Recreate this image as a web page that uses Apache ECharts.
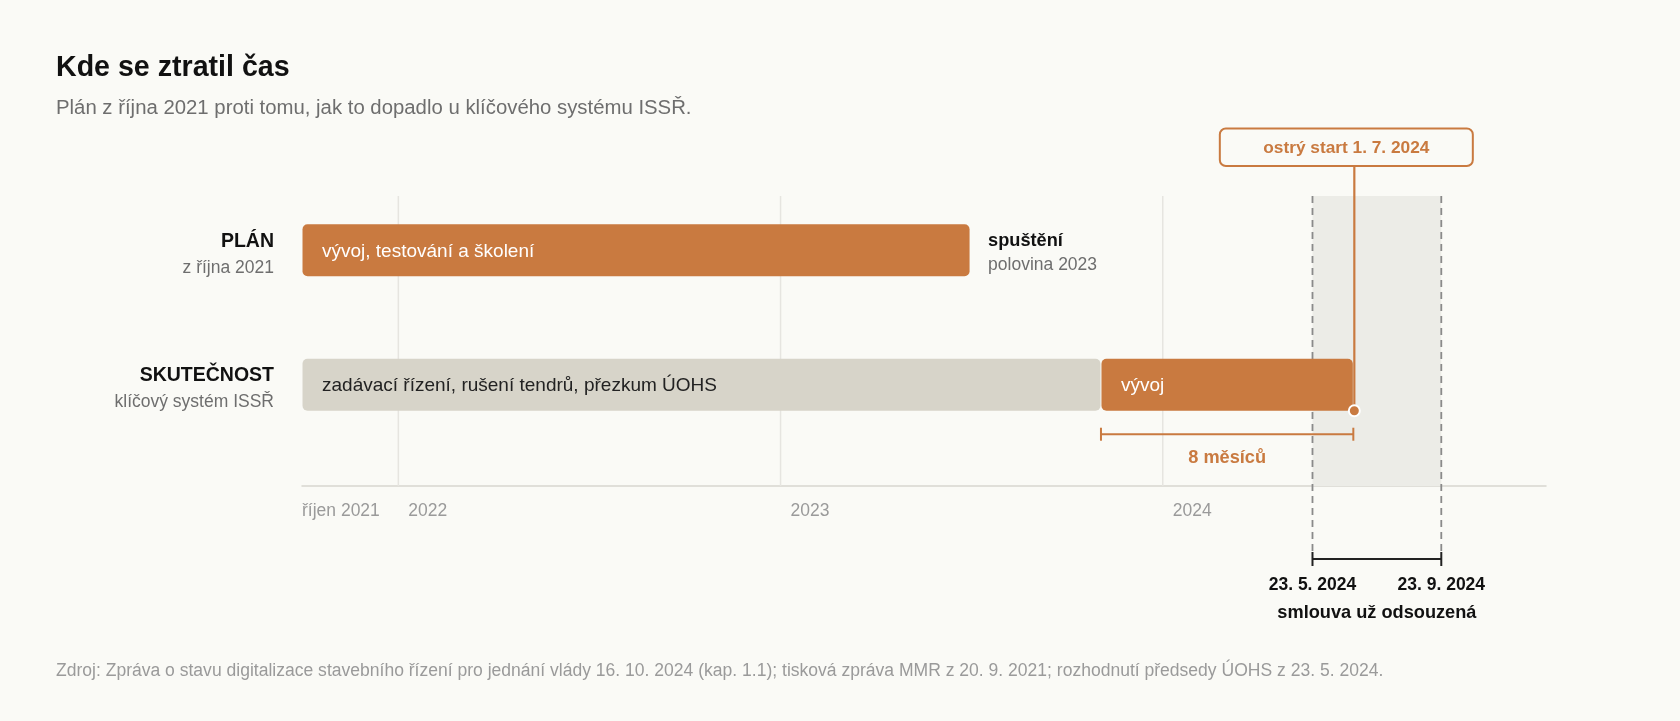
<!DOCTYPE html>
<html>
<head>
<meta charset="utf-8">
<script src="https://cdn.jsdelivr.net/npm/echarts@6/dist/echarts.min.js"></script>
<style>
html,body{margin:0;padding:0;background:#FAFAF6;}
#c{width:1680px;height:721px;}
</style>
</head>
<body>
<div id="c"></div>
<script>
// ---------- texts ----------
const titleText = 'Kde se ztratil čas';
const subtitleText = 'Plán z října 2021 proti tomu, jak to dopadlo u klíčového systému ISSŘ.';
const sourceText = 'Zdroj: Zpráva o stavu digitalizace stavebního řízení pro jednání vlády 16. 10. 2024 (kap. 1.1); tisková zpráva MMR z 20. 9. 2021; rozhodnutí předsedy ÚOHS z 23. 5. 2024.';

// ---------- axis ----------
const axisStart = '2021-10-01';
const axisEnd = '2025-01-01';
const tickDates = ['2021-10-01', '2022-01-01', '2023-01-01', '2024-01-01'];
const tickLabels = ['říjen 2021', '2022', '2023', '2024'];
const gridYears = ['2022-01-01', '2023-01-01', '2024-01-01'];

// ---------- rows ----------
const rowTitles = ['PLÁN', 'SKUTEČNOST'];
const rowSubtitles = ['z října 2021', 'klíčový systém ISSŘ'];

// ---------- segments ----------
const segRows = [0, 1, 1];
const segStarts = ['2021-10-01', '2021-10-01', '2023-11-03'];
const segEnds = ['2023-07-01', '2023-11-03', '2024-07-01'];
const segLabels = ['vývoj, testování a školení', 'zadávací řízení, rušení tendrů, přezkum ÚOHS', 'vývoj'];
const segKinds = ['dev', 'tender', 'dev'];

// ---------- annotations ----------
const planLaunchDate = '2023-07-01';
const planLaunchRow = 0;
const planLaunchTitle = 'spuštění';
const planLaunchNote = 'polovina 2023';

const goLiveDate = '2024-07-01';
const goLiveRow = 1;
const goLiveLabel = 'ostrý start 1. 7. 2024';

const delayStart = '2023-11-03';
const delayEnd = '2024-07-01';
const delayRow = 1;
const delayLabel = '8 měsíců';

const windowStart = '2024-05-23';
const windowEnd = '2024-09-23';
const windowStartLabel = '23. 5. 2024';
const windowEndLabel = '23. 9. 2024';
const windowNote = 'smlouva už odsouzená';

// ---------- style ----------
const FONT = '"Liberation Sans", Arial, Helvetica, sans-serif';
const ORANGE = '#C97A40';
const TENDER = '#D7D4C9';
const BAND = '#ECECE7';
const BG = '#FAFAF6';
const BAR_H = 52;

function t(s) { const p = s.split('-').map(Number); return new Date(p[0], p[1] - 1, p[2]).getTime(); }
function font(size, bold) { return (bold ? 'bold ' : '') + size + 'px ' + FONT; }

const tickMs = tickDates.map(t);

const chart = echarts.init(document.getElementById('c'), null, { renderer: 'canvas' });

const option = {
  backgroundColor: BG,
  animation: false,
  textStyle: { fontFamily: FONT },
  grid: { left: 302, right: 134, top: 196, bottom: 235 },
  xAxis: {
    type: 'value',
    min: t(axisStart),
    max: t(axisEnd),
    axisLine: { show: true, onZero: false, lineStyle: { color: '#D8D6CF', width: 1.5 } },
    axisTick: { show: false },
    splitLine: { show: false },
    axisLabel: {
      customValues: tickMs,
      hideOverlap: false,
      align: 'left',
      margin: 16,
      color: '#9A9A9A',
      fontSize: 17.5,
      fontFamily: FONT,
      formatter: function (v) {
        const i = tickMs.indexOf(v);
        if (i < 0) return '';
        return (i === 0 ? '{p|' : '{y|') + tickLabels[i] + '}';
      },
      rich: {
        p: { color: '#9A9A9A', fontSize: 17.5, fontFamily: FONT },
        y: { color: '#9A9A9A', fontSize: 17.5, fontFamily: FONT, padding: [0, 0, 0, 10] }
      }
    }
  },
  yAxis: {
    type: 'value', inverse: true, min: -0.4, max: 1.757, show: false,
    splitLine: { show: false }
  },
  series: [
    // highlighted window (band + dashed lines + bracket)
    {
      type: 'custom', clip: false, z: 1,
      data: [[t(windowStart), t(windowEnd)]],
      encode: { x: [0, 1] },
      renderItem: function (params, api) {
        const cs = params.coordSys;
        const x1 = api.coord([api.value(0), 0])[0];
        const x2 = api.coord([api.value(1), 0])[0];
        const top = cs.y, bottom = cs.y + cs.height;
        const by = bottom + 73;
        const dash = { stroke: '#8A8A8A', lineWidth: 1.8, lineDash: [7, 5] };
        return {
          type: 'group', children: [
            { type: 'rect', shape: { x: x1, y: top, width: x2 - x1, height: bottom - top }, style: { fill: BAND } },
            { type: 'line', shape: { x1: x1, y1: top, x2: x1, y2: by - 6 }, style: dash },
            { type: 'line', shape: { x1: x2, y1: top, x2: x2, y2: by - 6 }, style: dash },
            { type: 'line', shape: { x1: x1, y1: by, x2: x2, y2: by }, style: { stroke: '#222', lineWidth: 2 } },
            { type: 'line', shape: { x1: x1, y1: by - 7, x2: x1, y2: by + 7 }, style: { stroke: '#222', lineWidth: 2 } },
            { type: 'line', shape: { x1: x2, y1: by - 7, x2: x2, y2: by + 7 }, style: { stroke: '#222', lineWidth: 2 } },
            { type: 'text', style: { x: x1, y: by + 26, text: windowStartLabel, font: font(17.5, true), fill: '#111', align: 'center', verticalAlign: 'middle' } },
            { type: 'text', style: { x: x2, y: by + 26, text: windowEndLabel, font: font(17.5, true), fill: '#111', align: 'center', verticalAlign: 'middle' } },
            { type: 'text', style: { x: (x1 + x2) / 2, y: by + 54, text: windowNote, font: font(18.2, true), fill: '#111', align: 'center', verticalAlign: 'middle' } }
          ]
        };
      }
    },
    // year gridlines
    {
      type: 'custom', clip: false, z: 2,
      data: gridYears.map(function (d) { return [t(d)]; }),
      encode: { x: 0 },
      renderItem: function (params, api) {
        const cs = params.coordSys;
        const x = api.coord([api.value(0), 0])[0];
        return { type: 'line', shape: { x1: x, y1: cs.y, x2: x, y2: cs.y + cs.height }, style: { stroke: '#E6E5E0', lineWidth: 1.5 } };
      }
    },
    // bars
    {
      type: 'custom', clip: false, z: 3,
      data: segRows.map(function (r, i) { return [t(segStarts[i]), t(segEnds[i]), r, i]; }),
      encode: { x: [0, 1], y: 2 },
      renderItem: function (params, api) {
        const i = api.value(3);
        const p1 = api.coord([api.value(0), api.value(2)]);
        const p2 = api.coord([api.value(1), api.value(2)]);
        const dev = segKinds[i] === 'dev';
        return {
          type: 'group', children: [
            { type: 'rect', shape: { x: p1[0] + 0.5, y: p1[1] - BAR_H / 2 + 0.5, width: p2[0] - p1[0] - 1, height: BAR_H, r: 5 }, style: { fill: dev ? ORANGE : TENDER } },
            { type: 'text', style: { x: p1[0] + 20, y: p1[1] + 1.5, text: segLabels[i], font: font(19, false), fill: dev ? '#FFFFFF' : '#222', verticalAlign: 'middle' } }
          ]
        };
      }
    },
    // row labels
    {
      type: 'custom', clip: false, z: 3,
      data: rowTitles.map(function (_, i) { return [t(axisStart), i]; }),
      encode: { x: 0, y: 1 },
      renderItem: function (params, api) {
        const i = api.value(1);
        const p = api.coord([api.value(0), i]);
        const x = p[0] - 28;
        return {
          type: 'group', children: [
            { type: 'text', style: { x: x, y: p[1] - 8.5, text: rowTitles[i], font: font(19.5, true), fill: '#111', align: 'right', verticalAlign: 'middle' } },
            { type: 'text', style: { x: x, y: p[1] + 18, text: rowSubtitles[i], font: font(17.5, false), fill: '#6E6E6E', align: 'right', verticalAlign: 'middle' } }
          ]
        };
      }
    },
    // planned launch label
    {
      type: 'custom', clip: false, z: 4,
      data: [[t(planLaunchDate), planLaunchRow]],
      encode: { x: 0, y: 1 },
      renderItem: function (params, api) {
        const p = api.coord([api.value(0), api.value(1)]);
        return {
          type: 'group', children: [
            { type: 'text', style: { x: p[0] + 18, y: p[1] - 8.5, text: planLaunchTitle, font: font(18.2, true), fill: '#111', verticalAlign: 'middle' } },
            { type: 'text', style: { x: p[0] + 18, y: p[1] + 15.5, text: planLaunchNote, font: font(17.5, false), fill: '#6E6E6E', verticalAlign: 'middle' } }
          ]
        };
      }
    },
    // 8 months bracket
    {
      type: 'custom', clip: false, z: 4,
      data: [[t(delayStart), t(delayEnd), delayRow]],
      encode: { x: [0, 1], y: 2 },
      renderItem: function (params, api) {
        const p1 = api.coord([api.value(0), api.value(2)]);
        const p2 = api.coord([api.value(1), api.value(2)]);
        const y = p1[1] + BAR_H / 2 + 24;
        const st = { stroke: ORANGE, lineWidth: 2 };
        return {
          type: 'group', children: [
            { type: 'line', shape: { x1: p1[0], y1: y, x2: p2[0], y2: y }, style: st },
            { type: 'line', shape: { x1: p1[0], y1: y - 6.5, x2: p1[0], y2: y + 6.5 }, style: st },
            { type: 'line', shape: { x1: p2[0], y1: y - 6.5, x2: p2[0], y2: y + 6.5 }, style: st },
            { type: 'text', style: { x: (p1[0] + p2[0]) / 2, y: y + 24, text: delayLabel, font: font(18.2, true), fill: ORANGE, align: 'center', verticalAlign: 'middle' } }
          ]
        };
      }
    },
    // go-live callout
    {
      type: 'custom', clip: false, z: 5,
      data: [[t(goLiveDate), goLiveRow]],
      encode: { x: 0, y: 1 },
      renderItem: function (params, api) {
        const cs = params.coordSys;
        const p = api.coord([api.value(0), api.value(1)]);
        const gx = p[0] + 1;
        const barBottom = p[1] + BAR_H / 2 + 0.5;
        const boxBottom = cs.y - 31;
        const boxH = 37.5, boxW = 253;
        const cx = gx - 8;
        return {
          type: 'group', children: [
            { type: 'line', shape: { x1: gx, y1: boxBottom, x2: gx, y2: barBottom }, style: { stroke: ORANGE, lineWidth: 2.2 } },
            { type: 'rect', shape: { x: cx - boxW / 2, y: boxBottom - boxH + 1, width: boxW, height: boxH, r: 6 }, style: { fill: BG, stroke: ORANGE, lineWidth: 2 } },
            { type: 'text', style: { x: cx, y: boxBottom - boxH / 2 + 2, text: goLiveLabel, font: font(17.3, true), fill: ORANGE, align: 'center', verticalAlign: 'middle' } },
            { type: 'circle', shape: { cx: gx, cy: barBottom, r: 5.5 }, style: { fill: ORANGE, stroke: '#FFFFFF', lineWidth: 2 } }
          ]
        };
      }
    }
  ],
  graphic: [
    { type: 'text', x: 56, y: 68, style: { text: titleText, font: font(28.6, true), fill: '#111', verticalAlign: 'middle' } },
    { type: 'text', x: 56, y: 108, style: { text: subtitleText, font: font(20.35, false), fill: '#6E6E6E', verticalAlign: 'middle' } },
    { type: 'text', x: 56, y: 671, style: { text: sourceText, font: font(17.55, false), fill: '#9A9A9A', verticalAlign: 'middle' } }
  ]
};

chart.setOption(option);
</script>
</body>
</html>
